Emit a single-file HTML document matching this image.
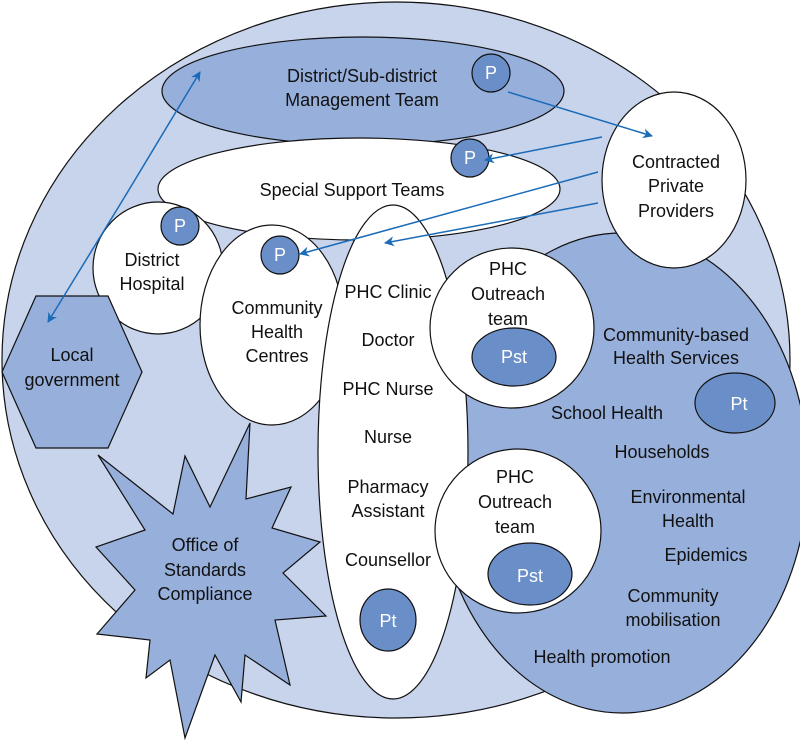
<!DOCTYPE html>
<html><head><meta charset="utf-8"><style>
html,body{margin:0;padding:0;background:#fff}
svg{display:block}
text{font-family:"Liberation Sans",sans-serif;font-size:18px;fill:#111;text-anchor:middle}
.w{fill:#fff}
</style></head><body>
<svg width="800" height="740" viewBox="0 0 800 740">
<defs><marker id="a" markerWidth="10" markerHeight="10" refX="9" refY="5" orient="auto" markerUnits="userSpaceOnUse"><path d="M0,0 L10,5 L0,10 L3,5 z" fill="#1a6bb8"/></marker></defs>
<g stroke="#111" stroke-width="1.2">
<ellipse cx="396" cy="360" rx="394" ry="358" fill="#c8d3ec"/>
<ellipse cx="622" cy="473" rx="186" ry="240" fill="#97afdb"/>
<ellipse cx="363" cy="91" rx="201" ry="54" fill="#97afdb"/>
<ellipse cx="359" cy="189" rx="201" ry="51" fill="#fff"/>
<ellipse cx="674" cy="180" rx="72" ry="88" fill="#fff"/>
<ellipse cx="158" cy="268" rx="65" ry="66" fill="#fff"/>
<ellipse cx="272" cy="325" rx="72" ry="100" fill="#fff"/>
<ellipse cx="393" cy="452" rx="75" ry="247" fill="#fff"/>
<ellipse cx="512" cy="328" rx="82" ry="80" fill="#fff"/>
<ellipse cx="518" cy="531" rx="83" ry="82" fill="#fff"/>
<polygon points="36,296 108,296 142,372 108,448 36,448 2,372" fill="#97afdb"/>
<polygon points="98,455 173,514 185,456 210,507 250,423 246,499 291,487 272,528 320,542 283,573 326,616 275,620 290,685 245,655 241,702 215,655 185,738 170,660 146,678 150,640 97,634 135,590 96,547 145,530" fill="#97afdb"/>
<g fill="#6a8fc8">
<circle cx="491" cy="73" r="19"/>
<circle cx="470" cy="158" r="19"/>
<circle cx="180" cy="226" r="19"/>
<circle cx="280" cy="255" r="19"/>
<ellipse cx="514" cy="357" rx="42" ry="29"/>
<ellipse cx="530" cy="574" rx="42" ry="31"/>
<ellipse cx="388" cy="620" rx="28" ry="31"/>
<ellipse cx="735" cy="403" rx="40" ry="30"/>
</g></g>
<g stroke="#1a6bb8" stroke-width="1.5" fill="none">
<line x1="508" y1="92" x2="652" y2="136" marker-end="url(#a)"/>
<line x1="602" y1="137" x2="485" y2="160" marker-end="url(#a)"/>
<line x1="598" y1="172" x2="300" y2="254" marker-end="url(#a)"/>
<line x1="598" y1="203" x2="385" y2="243" marker-end="url(#a)"/>
<line x1="124" y1="198" x2="48" y2="322" marker-end="url(#a)"/>
<line x1="124" y1="198" x2="200" y2="72" marker-end="url(#a)"/>
</g>
<text class="w" x="491" y="79">P</text>
<text class="w" x="470" y="164">P</text>
<text class="w" x="180" y="232">P</text>
<text class="w" x="280" y="261">P</text>
<text class="w" x="514" y="363">Pst</text>
<text class="w" x="530" y="582">Pst</text>
<text class="w" x="388" y="627">Pt</text>
<text class="w" x="739" y="410">Pt</text>
<text x="362" y="82">District/Sub-district</text>
<text x="362" y="106">Management Team</text>
<text x="352" y="196">Special Support Teams</text>
<text x="152" y="266">District</text>
<text x="152" y="290">Hospital</text>
<text x="277" y="314">Community</text>
<text x="277" y="338">Health</text>
<text x="277" y="362">Centres</text>
<text x="388" y="298">PHC Clinic</text>
<text x="388" y="346">Doctor</text>
<text x="388" y="395">PHC Nurse</text>
<text x="388" y="443">Nurse</text>
<text x="388" y="493">Pharmacy</text>
<text x="388" y="517">Assistant</text>
<text x="388" y="566">Counsellor</text>
<text x="508" y="275">PHC</text>
<text x="508" y="300">Outreach</text>
<text x="508" y="325">team</text>
<text x="515" y="483">PHC</text>
<text x="515" y="508">Outreach</text>
<text x="515" y="533">team</text>
<text x="676" y="168">Contracted</text>
<text x="676" y="192">Private</text>
<text x="676" y="217">Providers</text>
<text x="676" y="341">Community-based</text>
<text x="676" y="364">Health Services</text>
<text x="607" y="419">School Health</text>
<text x="662" y="458">Households</text>
<text x="688" y="503">Environmental</text>
<text x="688" y="527">Health</text>
<text x="706" y="561">Epidemics</text>
<text x="673" y="602">Community</text>
<text x="673" y="626">mobilisation</text>
<text x="602" y="663">Health promotion</text>
<text x="72" y="361">Local</text>
<text x="72" y="386">government</text>
<text x="205" y="551">Office of</text>
<text x="205" y="576">Standards</text>
<text x="205" y="600">Compliance</text>
</svg>
</body></html>
